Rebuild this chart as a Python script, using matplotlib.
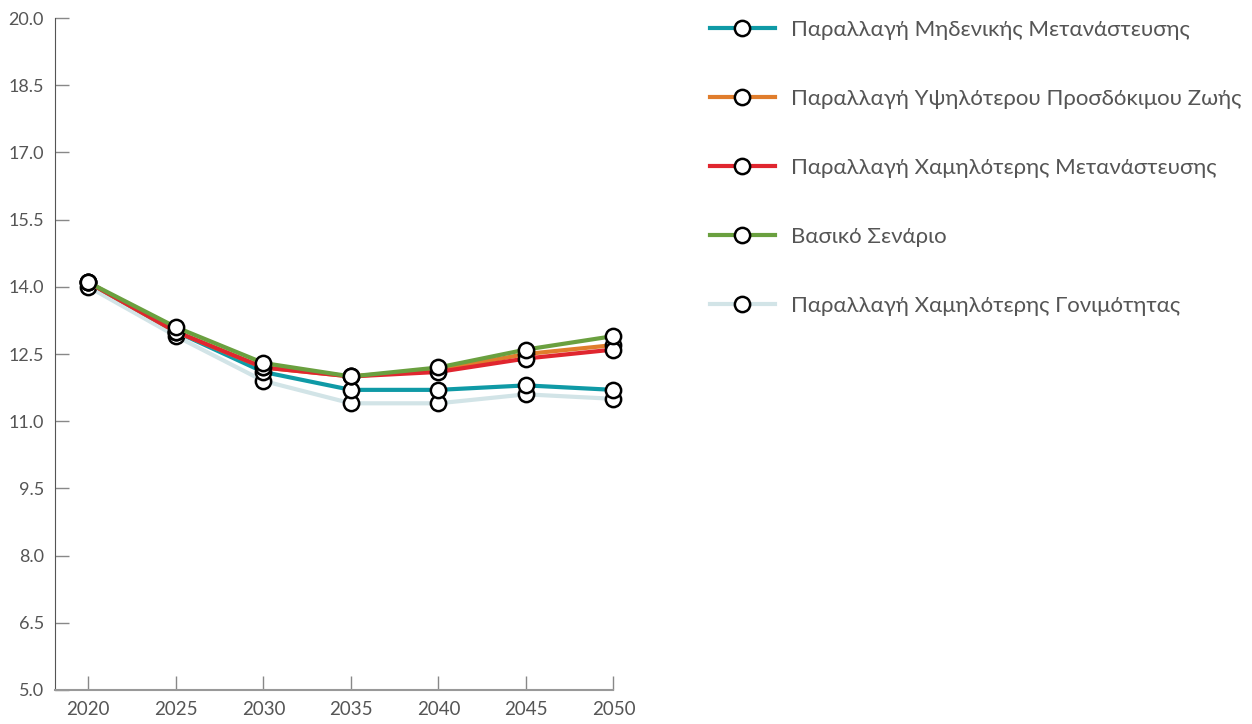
import matplotlib.pyplot as plt

years = [2020, 2025, 2030, 2035, 2040, 2045, 2050]

zero_migration = [14.1, 13.0, 12.1, 11.7, 11.7, 11.8, 11.7]
higher_life_exp = [14.1, 13.0, 12.2, 12.0, 12.15, 12.5, 12.7]
lower_migration = [14.1, 13.0, 12.2, 12.0, 12.1, 12.4, 12.6]
baseline = [14.1, 13.1, 12.3, 12.0, 12.2, 12.6, 12.9]
lower_fertility = [14.0, 12.9, 11.9, 11.4, 11.4, 11.6, 11.5]

labels = [
    "Παραλλαγή Μηδενικής Μετανάστευσης",
    "Παραλλαγή Υψηλότερου Προσδόκιμου Ζωής",
    "Παραλλαγή Χαμηλότερης Μετανάστευσης",
    "Βασικό Σενάριο",
    "Παραλλαγή Χαμηλότερης Γονιμότητας",
]
colors = ["#0f9aa6", "#e07d2c", "#e0262f", "#6aa03f", "#d2e4e7"]
series = [zero_migration, higher_life_exp, lower_migration, baseline, lower_fertility]
zorders = [4, 5, 6, 7, 3]

plt.rcParams['font.family'] = ['Lato', 'DejaVu Sans']
txt = "#555555"

fig = plt.figure(figsize=(12.52, 7.24), dpi=100)
ax = fig.add_axes([0.044, 0.047, 0.446, 0.928])

for vals, lab, col, z in zip(series, labels, colors, zorders):
    ax.plot(years, vals, color=col, lw=3, label=lab, zorder=z, clip_on=False,
            marker='o', markersize=11, markerfacecolor='white',
            markeredgecolor='black', markeredgewidth=1.8)

ax.set_xlim(2018.1, 2050)
ax.set_ylim(5, 20)
ax.set_xticks(years)
ax.set_yticks([5.0, 6.5, 8.0, 9.5, 11.0, 12.5, 14.0, 15.5, 17.0, 18.5, 20.0])
ax.set_yticklabels([f"{v:.1f}" for v in ax.get_yticks()])
ax.tick_params(axis='both', direction='in', length=10, width=1, color='#888888',
               labelcolor=txt, labelsize=13)
ax.tick_params(axis='y', pad=8)
ax.tick_params(axis='x', pad=8, labelsize=13.5)
for s in ['top', 'right']:
    ax.spines[s].set_visible(False)
ax.spines['left'].set_color('#555555')
ax.spines['bottom'].set_color('#999999')
ax.spines['bottom'].set_linewidth(1.5)

leg = fig.legend(loc='upper left', bbox_to_anchor=(0.551, 1.0), frameon=False,
                 fontsize=16, handlelength=2.93, handletextpad=0.72,
                 labelspacing=2.2)
for t in leg.get_texts():
    t.set_color(txt)

fig.savefig("out.png", dpi=100)
